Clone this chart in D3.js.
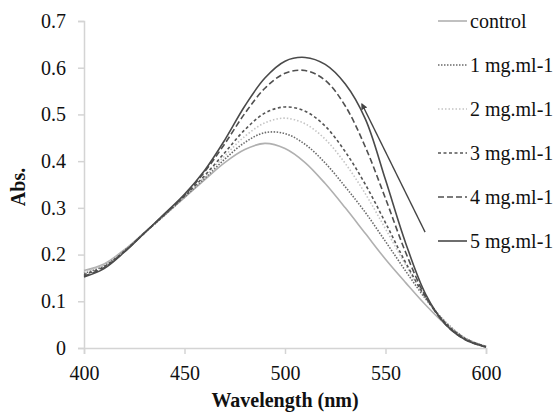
<!DOCTYPE html>
<html>
<head>
<meta charset="utf-8">
<script src="https://cdn.jsdelivr.net/npm/d3@7"></script>
<style>
  body { margin: 0; background: #fff; }
</style>
</head>
<body>
<div class="vis"></div>
<script>
const wavelengths = [400, 410, 420, 430, 440, 450, 460, 470, 480, 490, 500, 510, 520, 530, 540, 550, 560, 570, 580, 590, 600];

const control = [0.166, 0.180, 0.210, 0.247, 0.284, 0.322, 0.360, 0.397, 0.425, 0.438, 0.427, 0.397, 0.352, 0.300, 0.245, 0.190, 0.140, 0.092, 0.050, 0.020, 0.003];
const mg1 = [0.160, 0.176, 0.208, 0.246, 0.284, 0.323, 0.363, 0.404, 0.440, 0.461, 0.459, 0.436, 0.396, 0.345, 0.290, 0.228, 0.165, 0.105, 0.055, 0.020, 0.003];
const mg2 = [0.163, 0.178, 0.209, 0.247, 0.285, 0.324, 0.366, 0.411, 0.453, 0.482, 0.492, 0.480, 0.447, 0.395, 0.330, 0.255, 0.178, 0.108, 0.055, 0.020, 0.003];
const mg3 = [0.157, 0.174, 0.207, 0.246, 0.285, 0.325, 0.369, 0.418, 0.467, 0.503, 0.516, 0.507, 0.475, 0.420, 0.350, 0.268, 0.183, 0.108, 0.053, 0.019, 0.003];
const mg4 = [0.154, 0.172, 0.206, 0.246, 0.286, 0.327, 0.377, 0.437, 0.502, 0.556, 0.588, 0.594, 0.573, 0.518, 0.430, 0.320, 0.205, 0.110, 0.050, 0.017, 0.002];
const mg5 = [0.152, 0.170, 0.205, 0.246, 0.287, 0.329, 0.380, 0.445, 0.518, 0.578, 0.614, 0.622, 0.607, 0.565, 0.490, 0.360, 0.225, 0.115, 0.050, 0.017, 0.002];

const seriesNames = ['control', '1 mg.ml-1', '2 mg.ml-1', '3 mg.ml-1', '4 mg.ml-1', '5 mg.ml-1'];
const seriesValues = [control, mg1, mg2, mg3, mg4, mg5];

const xTicks = [400, 450, 500, 550, 600];
const yTicks = [0, 0.1, 0.2, 0.3, 0.4, 0.5, 0.6, 0.7];

// arrow: [wavelength, abs] from tail to head
const arrowTail = [569.7, 0.248];
const arrowHead = [538.3, 0.522];

const styles = [
    {color: '#b0b0b0', dash: null},
    {color: '#6a6a6a', dash: '1.5,1.5'},
    {color: '#c4c4c4', dash: '1.5,2'},
    {color: '#555', dash: '3,2.5'},
    {color: '#505050', dash: '6,3'},
    {color: '#4a4a4a', dash: null}
];

const serif = '"Liberation Serif", "Times New Roman", serif';

const margin = {top: 21, right: 74, bottom: 64, left: 84};
const outerWidth = 560, outerHeight = 412;
const width = outerWidth - margin.left - margin.right;
const height = outerHeight - margin.top - margin.bottom;

const root = d3.select('.vis').append('svg')
    .attr('width', outerWidth)
    .attr('height', outerHeight)
    .attr('font-family', serif);

const defs = root.append('defs');
defs.append('marker')
    .attr('id', 'head')
    .attr('viewBox', '0 0 10 10')
    .attr('refX', 8).attr('refY', 5)
    .attr('markerWidth', 5).attr('markerHeight', 5)
    .attr('orient', 'auto')
    .append('path')
    .attr('d', 'M0,0 L10,5 L0,10 z')
    .attr('fill', '#444');

const svg = root.append('g')
    .attr('transform', 'translate(' + margin.left + ',' + margin.top + ')');

const x = d3.scaleLinear().domain([400, 600]).range([0, width]);
const y = d3.scaleLinear().domain([0, 0.7]).range([height, 0]);

// axes
const xAxis = svg.append('g')
    .attr('transform', 'translate(0,' + height + ')')
    .call(d3.axisBottom(x).tickValues(xTicks).tickSize(6).tickPadding(12).tickFormat(d3.format('d')));
const yAxis = svg.append('g')
    .call(d3.axisLeft(y).tickValues(yTicks).tickSize(6).tickPadding(12).tickFormat(d => d === 0 ? '0' : d3.format('.1f')(d)));

[xAxis, yAxis].forEach(a => {
    a.attr('font-family', serif).attr('font-size', 20);
    a.selectAll('path, line').attr('stroke', '#d4d4d4').attr('stroke-width', 1.5);
    a.selectAll('text').attr('fill', '#111');
});

// curves
const line = d3.line()
    .x((d, i) => x(wavelengths[i]))
    .y(d => y(d))
    .curve(d3.curveCatmullRom);

svg.selectAll('.curve')
    .data(seriesValues)
    .enter().append('path')
    .attr('class', 'curve')
    .attr('d', d => line(d))
    .attr('fill', 'none')
    .attr('stroke', (d, i) => styles[i].color)
    .attr('stroke-width', 1.6)
    .attr('stroke-dasharray', (d, i) => styles[i].dash);

// arrow
svg.append('line')
    .attr('x1', x(arrowTail[0])).attr('y1', y(arrowTail[1]))
    .attr('x2', x(arrowHead[0])).attr('y2', y(arrowHead[1]))
    .attr('stroke', '#444')
    .attr('stroke-width', 1.3)
    .attr('marker-end', 'url(#head)');

// legend
const legend = root.append('g').attr('transform', 'translate(438,21)');
const rows = legend.selectAll('.row')
    .data(seriesNames)
    .enter().append('g')
    .attr('transform', (d, i) => 'translate(0,' + i * 44 + ')');
rows.append('line')
    .attr('x1', 0).attr('x2', 29)
    .attr('stroke', (d, i) => styles[i].color)
    .attr('stroke-width', 1.6)
    .attr('stroke-dasharray', (d, i) => styles[i].dash);
rows.append('text')
    .attr('x', 32)
    .attr('dy', '0.34em')
    .attr('font-size', 20)
    .attr('fill', '#111')
    .text(d => d);

// axis titles
root.append('text')
    .attr('x', margin.left + width / 2)
    .attr('y', 407)
    .attr('text-anchor', 'middle')
    .attr('font-size', 20)
    .attr('font-weight', 'bold')
    .attr('fill', '#111')
    .text('Wavelength (nm)');

root.append('text')
    .attr('transform', 'translate(25,187) rotate(-90)')
    .attr('text-anchor', 'middle')
    .attr('font-size', 20)
    .attr('font-weight', 'bold')
    .attr('fill', '#111')
    .text('Abs.');
</script>
</body>
</html>
